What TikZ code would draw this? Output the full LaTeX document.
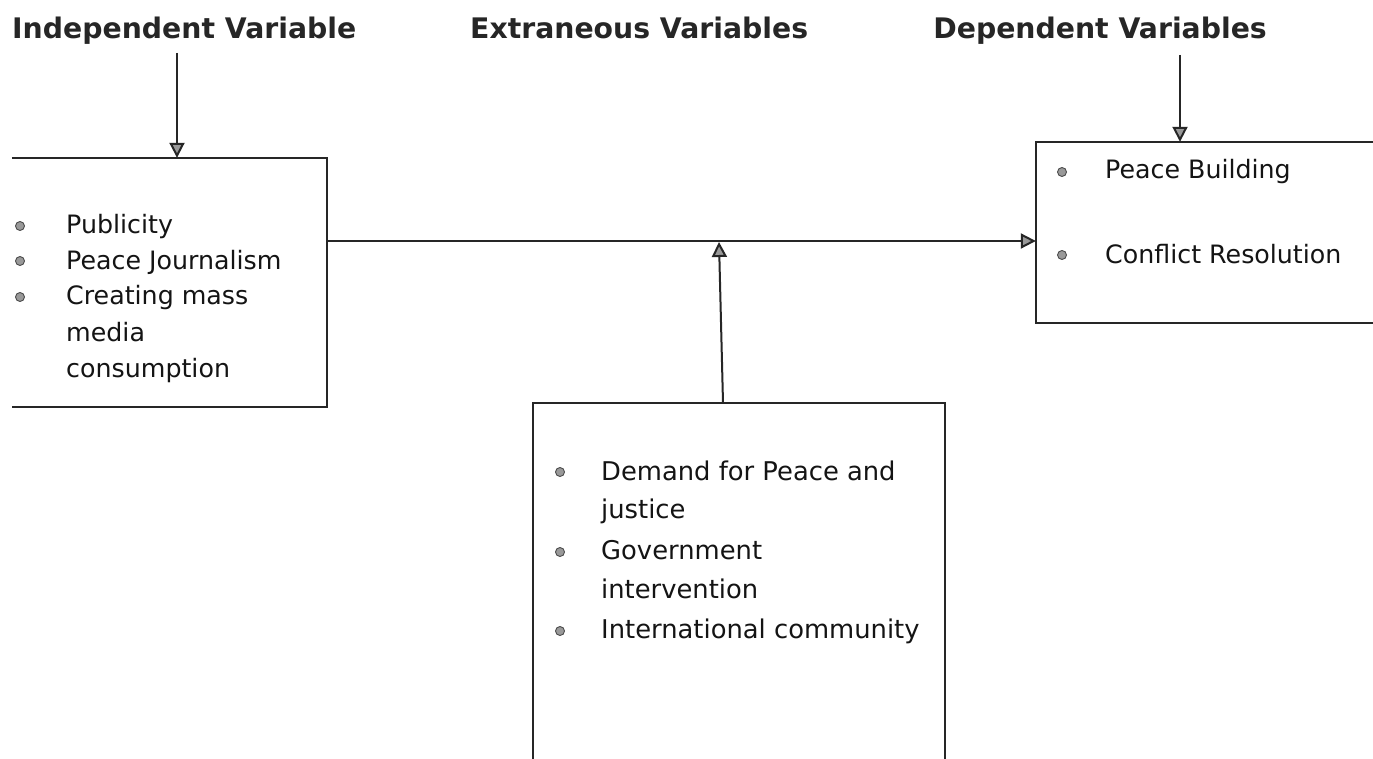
\documentclass[tikz,border=0pt]{standalone}
\usepackage{fontspec}
\setmainfont{DejaVu Sans}
\usetikzlibrary{arrows.meta}
\begin{document}
\begin{tikzpicture}[x=1pt,y=-1pt,
  title/.style={font=\fontsize{28.3}{34}\selectfont\bfseries, text=black!85, inner sep=0pt},
  item/.style={font=\fontsize{25.3}{30}\selectfont, text=black!92, inner sep=0pt, anchor=base west},
  itemm/.style={font=\fontsize{25.8}{30}\selectfont, text=black!92, inner sep=0pt, anchor=base west},
  dot/.style={circle, fill=black!40, draw=black!70, line width=0.9pt, minimum size=9pt, inner sep=0pt},
  boxarea/.style={inner sep=0pt, draw=none},
  frame/.style={line width=2pt, draw=black!85},
  arr/.style={line width=2pt, draw=black!85, -{Triangle[length=15pt,width=15pt,fill=black!40]}}
]
\useasboundingbox (0,0) rectangle (1373,759);
\clip (0,0) rectangle (1373,759);
\fill[white] (0,0) rectangle (1373,759);

% titles
\node[title, anchor=base west] (ivt) at (12,39) {Independent Variable};
\node[title, anchor=base west] (evt) at (470,39) {Extraneous Variables};
\node[title, anchor=base east] (dvt) at (1267,39) {Dependent Variables};

% boxes
\node[boxarea, minimum width=315pt, minimum height=249pt] (ivbox) at (169.5,282.5) {};
\node[boxarea, minimum width=354pt, minimum height=181pt] (dvbox) at (1213,232.5) {};
\node[boxarea, minimum width=412pt, minimum height=377pt] (evbox) at (739,591.5) {};

\draw[frame] (ivbox.north west) -- (ivbox.north east) -- (ivbox.south east) -- (ivbox.south west);
\draw[frame] (dvbox.north east) -- (dvbox.north west) -- (dvbox.south west) -- (dvbox.south east);
\draw[frame] (evbox.south west) -- (evbox.north west) -- (evbox.north east) -- (evbox.south east);

% connectors
\coordinate (ivtop) at (177,53);
\draw[arr] (ivtop) -- (ivtop |- ivbox.north);
\coordinate (dvtop) at (1180,55);
\draw[arr] (dvtop) -- (dvtop |- dvbox.north);
\coordinate (hl) at (0,241);
\draw[arr] (ivbox.east |- hl) -- (dvbox.west |- hl);
\coordinate (evfoot) at (723,0);
\coordinate (evtip) at (719,242);
\draw[arr] (evfoot |- evbox.north) -- (evtip);

% independent items
\node[dot] (ivd1) at (20,226) {};
\node[dot] (ivd2) at (20,261) {};
\node[dot] (ivd3) at (20,297) {};
\node[item] (iv1) at (66,234) {Publicity};
\node[item] (iv2) at (66,270) {Peace Journalism};
\node[item] (iv3) at (66,305) {Creating mass};
\node[item] (iv4) at (66,341) {media};
\node[item] (iv5) at (66,377) {consumption};

% dependent items
\node[dot] (dvd1) at (1062,172) {};
\node[dot] (dvd2) at (1062,255) {};
\node[item] (dv1) at (1105,179) {Peace Building};
\node[item] (dv2) at (1105,264) {Conflict Resolution};

% extraneous items
\node[dot] (evd1) at (560,472) {};
\node[dot] (evd2) at (560,552) {};
\node[dot] (evd3) at (560,631) {};
\node[itemm] (ev1) at (601,480) {Demand for Peace and};
\node[itemm] (ev2) at (601,518) {justice};
\node[itemm] (ev3) at (601,559) {Government};
\node[itemm] (ev4) at (601,598) {intervention};
\node[itemm] (ev5) at (601,638) {International community};
\end{tikzpicture}
\end{document}
